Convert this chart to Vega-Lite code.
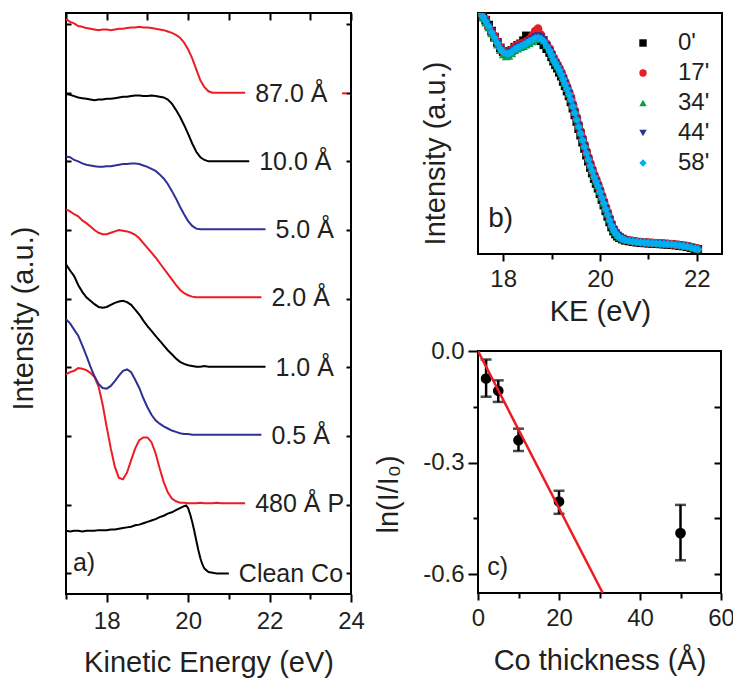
{
  "$schema": "https://vega.github.io/schema/vega-lite/v6.json",
  "padding": {"left": 8, "top": 11, "right": 0, "bottom": 0},
  "config": {
    "font": "Liberation Sans",
    "view": {"stroke": "#000000", "strokeWidth": 2},
    "axis": {"domain": false, "grid": false, "tickColor": "#000000", "tickWidth": 2, "labelFontSize": 24, "titleFontSize": 29, "titleFontWeight": "normal", "labelColor": "#231f20", "titleColor": "#231f20", "labelFlush": false, "labelOverlap": false},
    "text": {"color": "#231f20"}
  },
  "spacing": 7,
  "resolve": {"scale": {"color": "independent", "shape": "independent"}, "legend": {"color": "independent", "shape": "independent"}},
  "hconcat": [
    {
      "width": 285,
      "height": 581,
      "data": {"values": [
        {"e":17.0,"c":0.62,"p":2.90,"h":3.70,"a1":4.50,"a2":5.30,"a5":6.07,"a10":6.98,"a87":8.07},
        {"e":17.1,"c":0.61,"p":2.93,"h":3.64,"a1":4.41,"a2":5.27,"a5":6.06,"a10":6.97,"a87":8.03},
        {"e":17.2,"c":0.62,"p":2.95,"h":3.55,"a1":4.33,"a2":5.23,"a5":6.02,"a10":6.95,"a87":8.01},
        {"e":17.3,"c":0.62,"p":2.99,"h":3.46,"a1":4.20,"a2":5.20,"a5":6.00,"a10":6.93,"a87":7.97},
        {"e":17.4,"c":0.61,"p":2.98,"h":3.32,"a1":4.10,"a2":5.14,"a5":5.97,"a10":6.92,"a87":7.96},
        {"e":17.5,"c":0.62,"p":2.96,"h":3.17,"a1":4.02,"a2":5.10,"a5":5.95,"a10":6.91,"a87":7.94},
        {"e":17.6,"c":0.62,"p":2.92,"h":3.01,"a1":3.97,"a2":5.05,"a5":5.94,"a10":6.90,"a87":7.93},
        {"e":17.7,"c":0.62,"p":2.86,"h":2.87,"a1":3.92,"a2":5.00,"a5":5.93,"a10":6.89,"a87":7.92},
        {"e":17.8,"c":0.63,"p":2.72,"h":2.76,"a1":3.88,"a2":4.96,"a5":5.92,"a10":6.90,"a87":7.91},
        {"e":17.9,"c":0.63,"p":2.46,"h":2.70,"a1":3.87,"a2":4.94,"a5":5.92,"a10":6.90,"a87":7.92},
        {"e":18.0,"c":0.63,"p":2.13,"h":2.69,"a1":3.88,"a2":4.94,"a5":5.93,"a10":6.91,"a87":7.92},
        {"e":18.1,"c":0.64,"p":1.82,"h":2.73,"a1":3.91,"a2":4.96,"a5":5.93,"a10":6.91,"a87":7.91},
        {"e":18.2,"c":0.64,"p":1.55,"h":2.80,"a1":3.94,"a2":4.98,"a5":5.94,"a10":6.92,"a87":7.92},
        {"e":18.3,"c":0.65,"p":1.39,"h":2.88,"a1":3.96,"a2":5.00,"a5":5.95,"a10":6.93,"a87":7.93},
        {"e":18.4,"c":0.66,"p":1.37,"h":2.95,"a1":3.97,"a2":4.99,"a5":5.96,"a10":6.94,"a87":7.93},
        {"e":18.5,"c":0.67,"p":1.47,"h":2.97,"a1":3.95,"a2":4.98,"a5":5.96,"a10":6.94,"a87":7.94},
        {"e":18.6,"c":0.68,"p":1.65,"h":2.93,"a1":3.91,"a2":4.96,"a5":5.97,"a10":6.95,"a87":7.95},
        {"e":18.7,"c":0.70,"p":1.82,"h":2.82,"a1":3.84,"a2":4.93,"a5":5.97,"a10":6.96,"a87":7.95},
        {"e":18.8,"c":0.71,"p":1.94,"h":2.70,"a1":3.77,"a2":4.88,"a5":5.96,"a10":6.96,"a87":7.96},
        {"e":18.9,"c":0.73,"p":1.98,"h":2.55,"a1":3.68,"a2":4.81,"a5":5.94,"a10":6.95,"a87":7.95},
        {"e":19.0,"c":0.75,"p":1.98,"h":2.42,"a1":3.60,"a2":4.74,"a5":5.92,"a10":6.95,"a87":7.95},
        {"e":19.1,"c":0.77,"p":1.91,"h":2.31,"a1":3.53,"a2":4.67,"a5":5.89,"a10":6.96,"a87":7.94},
        {"e":19.2,"c":0.79,"p":1.75,"h":2.23,"a1":3.46,"a2":4.60,"a5":5.86,"a10":6.95,"a87":7.93},
        {"e":19.3,"c":0.82,"p":1.53,"h":2.18,"a1":3.39,"a2":4.52,"a5":5.81,"a10":6.94,"a87":7.92},
        {"e":19.4,"c":0.84,"p":1.33,"h":2.14,"a1":3.32,"a2":4.44,"a5":5.75,"a10":6.93,"a87":7.91},
        {"e":19.5,"c":0.87,"p":1.18,"h":2.11,"a1":3.25,"a2":4.36,"a5":5.67,"a10":6.90,"a87":7.89},
        {"e":19.6,"c":0.89,"p":1.09,"h":2.08,"a1":3.19,"a2":4.28,"a5":5.57,"a10":6.84,"a87":7.87},
        {"e":19.7,"c":0.92,"p":1.05,"h":2.06,"a1":3.13,"a2":4.20,"a5":5.46,"a10":6.75,"a87":7.84},
        {"e":19.8,"c":0.95,"p":1.03,"h":2.04,"a1":3.08,"a2":4.13,"a5":5.34,"a10":6.65,"a87":7.80},
        {"e":19.9,"c":0.98,"p":1.03,"h":2.03,"a1":3.05,"a2":4.08,"a5":5.23,"a10":6.53,"a87":7.73},
        {"e":19.95,"c":0.99},
        {"e":20.0,"c":0.95,"p":1.02,"h":2.03,"a1":3.03,"a2":4.05,"a5":5.13,"a10":6.40,"a87":7.63},
        {"e":20.05,"c":0.86},
        {"e":20.1,"c":0.75,"p":1.02,"h":2.02,"a1":3.02,"a2":4.03,"a5":5.06,"a10":6.26,"a87":7.50},
        {"e":20.15,"c":0.62},
        {"e":20.2,"c":0.48,"p":1.02,"h":2.02,"a1":3.01,"a2":4.02,"a5":5.02,"a10":6.14,"a87":7.34},
        {"e":20.25,"c":0.34},
        {"e":20.3,"c":0.22,"p":1.03,"h":2.02,"a1":3.01,"a2":4.02,"a5":5.01,"a10":6.06,"a87":7.18},
        {"e":20.35,"c":0.13},
        {"e":20.4,"c":0.07,"p":1.02,"h":2.02,"a1":3.02,"a2":4.02,"a5":5.01,"a10":6.02,"a87":7.08},
        {"e":20.5,"c":0.02,"p":1.02,"h":2.02,"a1":3.01,"a2":4.02,"a5":5.01,"a10":6.00,"a87":7.02},
        {"e":20.6,"c":0.01,"p":1.02,"h":2.02,"a1":3.01,"a2":4.02,"a5":5.01,"a10":6.00,"a87":7.00},
        {"e":20.7,"c":0.00,"p":1.03,"h":2.02,"a1":3.01,"a2":4.02,"a5":5.01,"a10":6.00,"a87":7.00},
        {"e":20.8,"c":0.00,"p":1.02,"h":2.02,"a1":3.01,"a2":4.02,"a5":5.01,"a10":6.00,"a87":7.00},
        {"e":20.9,"c":0.00,"p":1.02,"h":2.02,"a1":3.01,"a2":4.02,"a5":5.01,"a10":6.00,"a87":7.00},
        {"e":21.0,"c":0.00,"p":1.02,"h":2.02,"a1":3.01,"a2":4.02,"a5":5.01,"a10":6.00,"a87":7.00},
        {"e":21.1,"p":1.02,"h":2.02,"a1":3.01,"a2":4.02,"a5":5.01,"a10":6.00,"a87":7.00},
        {"e":21.2,"p":1.02,"h":2.02,"a1":3.01,"a2":4.02,"a5":5.01,"a10":6.00,"a87":7.00},
        {"e":21.3,"p":1.02,"h":2.02,"a1":3.01,"a2":4.02,"a5":5.01,"a10":6.00,"a87":7.00},
        {"e":21.4,"p":1.02,"h":2.02,"a1":3.01,"a2":4.02,"a5":5.01,"a10":6.00,"a87":7.00},
        {"e":21.5,"h":2.02,"a1":3.01,"a2":4.02,"a5":5.01,"a10":6.00},
        {"e":21.6,"h":2.02,"a1":3.01,"a2":4.02,"a5":5.01},
        {"e":21.7,"h":2.02,"a1":3.01,"a2":4.02,"a5":5.01},
        {"e":21.8,"h":2.02,"a1":3.01,"a2":4.02,"a5":5.01},
        {"e":21.9,"a1":3.01,"a5":5.01},
        {"e":23.78,"d":6.99},
        {"e":23.9,"d":6.99}
      ]},
      "transform": [
        {"fold": ["c","p","h","a1","a2","a5","a10","a87","d"], "as": ["s","v"]},
        {"filter": {"field": "v", "valid": true}}
      ],
      "layer": [
        {
          "mark": {"type": "line", "strokeWidth": 2, "clip": true},
          "encoding": {
            "x": {"field": "e", "type": "quantitative", "scale": {"domain": [17, 24], "nice": false, "zero": false},
                  "axis": {"orient": "bottom", "values": [18, 20, 22, 24], "tickSize": 8, "labelPadding": 7, "title": "Kinetic Energy (eV)", "titlePadding": 15}},
            "y": {"field": "v", "type": "quantitative", "scale": {"domain": [-0.3, 8.16], "nice": false, "zero": false},
                  "axis": {"orient": "left", "values": [0,1,2,3,4,5,6,7,8], "tickSize": -5, "labels": false, "title": "Intensity (a.u.)", "titlePadding": 27, "titleY": 305}},
            "color": {"field": "s", "type": "nominal",
                      "scale": {"domain": ["c","p","h","a1","a2","a5","a10","a87","d"],
                                "range": ["#000000","#ed1c24","#2e3192","#000000","#ed1c24","#2e3192","#000000","#ed1c24","#ed1c24"]},
                      "legend": null}
          }
        },
        {
          "transform": [
            {"filter": "datum.s != 'd'"},
            {"joinaggregate": [{"op": "max", "field": "e", "as": "emax"}], "groupby": ["s"]},
            {"filter": "datum.e == datum.emax"},
            {"lookup": "s", "from": {"data": {"values": [
              {"s":"c","label":"Clean Co"},{"s":"p","label":"480 Å P"},{"s":"h","label":"0.5 Å"},{"s":"a1","label":"1.0 Å"},
              {"s":"a2","label":"2.0 Å"},{"s":"a5","label":"5.0 Å"},{"s":"a10","label":"10.0 Å"},{"s":"a87","label":"87.0 Å"}
            ]}, "key": "s", "fields": ["label"]}}
          ],
          "mark": {"type": "text", "align": "left", "baseline": "middle", "dx": 10, "dy": 1, "fontSize": 25},
          "encoding": {
            "x": {"field": "e", "type": "quantitative", "axis": {"orient": "top", "values": [17,18,19,20,21,22,23,24], "tickSize": -7, "labels": false, "title": null}},
            "y": {"field": "v", "type": "quantitative", "axis": {"orient": "right", "values": [0,1,2,3,4,5,6,7,8], "tickSize": -5, "labels": false, "title": null}},
            "text": {"field": "label"}
          }
        },
        {
          "data": {"values": [{}]},
          "mark": {"type": "text", "text": "a)", "align": "left", "baseline": "alphabetic", "fontSize": 25},
          "encoding": {
            "x": {"datum": 17.17, "type": "quantitative", "axis": {"orient": "bottom", "values": [17, 19, 21, 23], "tickSize": 5, "labels": false, "title": null}},
            "y": {"datum": 0.04, "type": "quantitative", "axis": null}
          }
        }
      ],
      "resolve": {"axis": {"x": "independent", "y": "independent"}}
    },
    {
      "spacing": 11,
      "resolve": {"scale": {"color": "independent", "shape": "independent"}, "legend": {"color": "independent", "shape": "independent"}},
      "vconcat": [
        {
          "width": 244,
          "height": 241,
          "layer": [
            {
              "data": {"values": [
                {"e":17.52,"t0":1.02,"t17":1.01,"t34":1.00,"t44":1.01,"t58":1.01},
                {"e":17.58,"t0":0.99,"t17":0.98,"t34":0.98,"t44":0.99,"t58":0.985},
                {"e":17.64,"t0":0.97,"t17":0.975,"t34":0.96,"t44":0.965,"t58":0.965},
                {"e":17.70,"t0":0.95,"t17":0.94,"t34":0.94,"t44":0.945,"t58":0.945},
                {"e":17.76,"t0":0.925,"t17":0.925,"t34":0.915,"t44":0.92,"t58":0.92},
                {"e":17.82,"t0":0.90,"t17":0.905,"t34":0.895,"t44":0.895,"t58":0.898},
                {"e":17.88,"t0":0.878,"t17":0.88,"t34":0.868,"t44":0.872,"t58":0.875},
                {"e":17.94,"t0":0.855,"t17":0.858,"t34":0.845,"t44":0.85,"t58":0.852},
                {"e":18.00,"t0":0.84,"t17":0.842,"t34":0.828,"t44":0.836,"t58":0.838},
                {"e":18.06,"t0":0.835,"t17":0.836,"t34":0.82,"t44":0.83,"t58":0.832},
                {"e":18.12,"t0":0.836,"t17":0.835,"t34":0.822,"t44":0.83,"t58":0.832},
                {"e":18.18,"t0":0.845,"t17":0.848,"t34":0.832,"t44":0.84,"t58":0.84},
                {"e":18.24,"t0":0.858,"t17":0.86,"t34":0.845,"t44":0.85,"t58":0.85},
                {"e":18.30,"t0":0.866,"t17":0.868,"t34":0.852,"t44":0.858,"t58":0.857},
                {"e":18.36,"t0":0.872,"t17":0.872,"t34":0.858,"t44":0.862,"t58":0.862},
                {"e":18.42,"t0":0.885,"t17":0.876,"t34":0.862,"t44":0.868,"t58":0.868},
                {"e":18.48,"t0":0.905,"t17":0.882,"t34":0.868,"t44":0.876,"t58":0.875},
                {"e":18.54,"t0":0.895,"t17":0.89,"t34":0.875,"t44":0.884,"t58":0.882},
                {"e":18.60,"t0":0.892,"t17":0.905,"t34":0.882,"t44":0.892,"t58":0.888},
                {"e":18.66,"t0":0.897,"t17":0.925,"t34":0.89,"t44":0.9,"t58":0.895},
                {"e":18.72,"t0":0.895,"t17":0.935,"t34":0.895,"t44":0.905,"t58":0.897},
                {"e":18.78,"t0":0.885,"t17":0.91,"t34":0.893,"t44":0.9,"t58":0.893},
                {"e":18.84,"t0":0.868,"t17":0.89,"t34":0.885,"t44":0.888,"t58":0.882},
                {"e":18.90,"t0":0.852,"t17":0.872,"t34":0.866,"t44":0.864,"t58":0.862},
                {"e":18.96,"t0":0.836,"t17":0.852,"t34":0.846,"t44":0.844,"t58":0.843},
                {"e":19.00,"t0":0.818,"t17":0.834,"t34":0.828,"t44":0.827,"t58":0.825},
                {"e":19.04,"t0":0.800,"t17":0.815,"t34":0.809,"t44":0.808,"t58":0.806},
                {"e":19.08,"t0":0.785,"t17":0.801,"t34":0.795,"t44":0.793,"t58":0.792},
                {"e":19.12,"t0":0.771,"t17":0.786,"t34":0.780,"t44":0.779,"t58":0.777},
                {"e":19.16,"t0":0.754,"t17":0.772,"t34":0.765,"t44":0.764,"t58":0.762},
                {"e":19.20,"t0":0.738,"t17":0.755,"t34":0.748,"t44":0.747,"t58":0.745},
                {"e":19.24,"t0":0.716,"t17":0.735,"t34":0.728,"t44":0.727,"t58":0.725},
                {"e":19.28,"t0":0.698,"t17":0.714,"t34":0.708,"t44":0.707,"t58":0.705},
                {"e":19.32,"t0":0.676,"t17":0.695,"t34":0.688,"t44":0.687,"t58":0.685},
                {"e":19.36,"t0":0.656,"t17":0.673,"t34":0.666,"t44":0.665,"t58":0.663},
                {"e":19.40,"t0":0.631,"t17":0.650,"t34":0.643,"t44":0.642,"t58":0.64},
                {"e":19.44,"t0":0.605,"t17":0.622,"t34":0.615,"t44":0.614,"t58":0.612},
                {"e":19.48,"t0":0.577,"t17":0.595,"t34":0.588,"t44":0.587,"t58":0.585},
                {"e":19.52,"t0":0.550,"t17":0.567,"t34":0.560,"t44":0.559,"t58":0.557},
                {"e":19.56,"t0":0.520,"t17":0.538,"t34":0.531,"t44":0.530,"t58":0.528},
                {"e":19.60,"t0":0.493,"t17":0.510,"t34":0.503,"t44":0.502,"t58":0.5},
                {"e":19.64,"t0":0.464,"t17":0.482,"t34":0.475,"t44":0.474,"t58":0.472},
                {"e":19.68,"t0":0.438,"t17":0.455,"t34":0.448,"t44":0.447,"t58":0.445},
                {"e":19.72,"t0":0.410,"t17":0.428,"t34":0.421,"t44":0.420,"t58":0.418},
                {"e":19.76,"t0":0.385,"t17":0.402,"t34":0.395,"t44":0.394,"t58":0.392},
                {"e":19.80,"t0":0.359,"t17":0.376,"t34":0.369,"t44":0.368,"t58":0.366},
                {"e":19.84,"t0":0.336,"t17":0.353,"t34":0.346,"t44":0.345,"t58":0.343},
                {"e":19.88,"t0":0.313,"t17":0.330,"t34":0.323,"t44":0.322,"t58":0.32},
                {"e":19.92,"t0":0.293,"t17":0.310,"t34":0.303,"t44":0.302,"t58":0.3},
                {"e":19.96,"t0":0.273,"t17":0.290,"t34":0.283,"t44":0.282,"t58":0.28},
                {"e":20.00,"t0":0.250,"t17":0.267,"t34":0.260,"t44":0.259,"t58":0.257},
                {"e":20.04,"t0":0.226,"t17":0.243,"t34":0.236,"t44":0.235,"t58":0.233},
                {"e":20.08,"t0":0.203,"t17":0.220,"t34":0.213,"t44":0.212,"t58":0.21},
                {"e":20.12,"t0":0.179,"t17":0.196,"t34":0.189,"t44":0.188,"t58":0.186},
                {"e":20.16,"t0":0.156,"t17":0.173,"t34":0.166,"t44":0.165,"t58":0.163},
                {"e":20.20,"t0":0.133,"t17":0.150,"t34":0.143,"t44":0.142,"t58":0.14},
                {"e":20.24,"t0":0.112,"t17":0.127,"t34":0.121,"t44":0.120,"t58":0.118},
                {"e":20.28,"t0":0.095,"t17":0.107,"t34":0.102,"t44":0.101,"t58":0.1},
                {"e":20.32,"t0":0.083,"t17":0.092,"t34":0.089,"t44":0.088,"t58":0.087},
                {"e":20.36,"t0":0.074,"t17":0.080,"t34":0.078,"t44":0.077,"t58":0.077},
                {"e":20.40,"t0":0.068,"t17":0.072,"t34":0.071,"t44":0.070,"t58":0.07},
                {"e":20.46,"t0":0.062,"t17":0.064,"t34":0.064,"t44":0.062,"t58":0.063},
                {"e":20.52,"t0":0.057,"t17":0.059,"t34":0.06,"t44":0.057,"t58":0.058},
                {"e":20.60,"t0":0.054,"t17":0.056,"t34":0.057,"t44":0.053,"t58":0.055},
                {"e":20.68,"t0":0.051,"t17":0.053,"t34":0.055,"t44":0.05,"t58":0.052},
                {"e":20.76,"t0":0.049,"t17":0.051,"t34":0.053,"t44":0.048,"t58":0.05},
                {"e":20.84,"t0":0.047,"t17":0.049,"t34":0.051,"t44":0.046,"t58":0.048},
                {"e":20.92,"t0":0.046,"t17":0.048,"t34":0.05,"t44":0.045,"t58":0.047},
                {"e":21.00,"t0":0.045,"t17":0.047,"t34":0.049,"t44":0.044,"t58":0.046},
                {"e":21.08,"t0":0.044,"t17":0.046,"t34":0.048,"t44":0.043,"t58":0.045},
                {"e":21.16,"t0":0.043,"t17":0.045,"t34":0.047,"t44":0.042,"t58":0.044},
                {"e":21.24,"t0":0.042,"t17":0.044,"t34":0.046,"t44":0.041,"t58":0.043},
                {"e":21.32,"t0":0.041,"t17":0.043,"t34":0.045,"t44":0.04,"t58":0.042},
                {"e":21.40,"t0":0.04,"t17":0.042,"t34":0.044,"t44":0.039,"t58":0.041},
                {"e":21.48,"t0":0.039,"t17":0.041,"t34":0.043,"t44":0.038,"t58":0.04},
                {"e":21.56,"t0":0.037,"t17":0.039,"t34":0.041,"t44":0.036,"t58":0.038},
                {"e":21.64,"t0":0.035,"t17":0.037,"t34":0.039,"t44":0.034,"t58":0.036},
                {"e":21.72,"t0":0.033,"t17":0.035,"t34":0.037,"t44":0.032,"t58":0.034},
                {"e":21.80,"t0":0.03,"t17":0.032,"t34":0.034,"t44":0.029,"t58":0.031},
                {"e":21.88,"t0":0.026,"t17":0.028,"t34":0.03,"t44":0.025,"t58":0.027},
                {"e":21.96,"t0":0.022,"t17":0.024,"t34":0.025,"t44":0.021,"t58":0.023},
                {"e":22.02,"t0":0.019,"t17":0.021,"t34":0.022,"t44":0.018,"t58":0.02}
              ]},
              "transform": [{"fold": ["t0","t17","t34","t44","t58"], "as": ["t","i"]}],
              "mark": {"type": "point", "filled": true, "size": 75, "opacity": 1, "clip": true},
              "encoding": {
                "x": {"field": "e", "type": "quantitative", "scale": {"domain": [17.48, 22.52], "nice": false, "zero": false},
                      "axis": {"orient": "bottom", "values": [18, 20, 22], "tickSize": 7, "labelPadding": 6, "title": "KE (eV)", "titlePadding": 6}},
                "y": {"field": "i", "type": "quantitative", "scale": {"domain": [0, 1], "nice": false, "zero": false},
                      "axis": {"orient": "left", "ticks": false, "labels": false, "title": "Intensity (a.u.)", "titlePadding": 28, "titleY": 140}},
                "color": {"field": "t", "type": "nominal",
                          "scale": {"domain": ["t0","t17","t34","t44","t58"], "range": ["#000000","#ed1c24","#00a14b","#2e3192","#00aeef"]},
                          "legend": {"orient": "none", "legendX": 153, "legendY": 18, "title": null, "labelFontSize": 24, "labelColor": "#231f20", "labelOffset": 23, "rowPadding": 6, "symbolSize": 55, "labelExpr": "slice(datum.label, 1) + \"'\""}},
                "shape": {"field": "t", "type": "nominal",
                          "scale": {"domain": ["t0","t17","t34","t44","t58"], "range": ["square","circle","triangle-up","triangle-down","diamond"]},
                          "legend": {"orient": "none", "legendX": 153, "legendY": 18, "title": null, "labelFontSize": 24, "labelColor": "#231f20", "labelOffset": 23, "rowPadding": 6, "symbolSize": 55, "labelExpr": "slice(datum.label, 1) + \"'\""}},
                "order": {"field": "t", "type": "ordinal", "sort": "ascending"}
              }
            },
            {
              "data": {"values": [{}]},
              "mark": {"type": "text", "text": "b)", "align": "left", "baseline": "alphabetic", "fontSize": 28},
              "encoding": {
                "x": {"datum": 17.69, "type": "quantitative", "axis": {"orient": "bottom", "values": [19, 21], "tickSize": 5, "labels": false, "title": null}},
                "y": {"datum": 0.113, "type": "quantitative", "axis": null}
              }
            }
          ],
          "resolve": {"axis": {"x": "independent", "y": "independent"}}
        },
        {
          "width": 243,
          "height": 242,
          "data": {"values": [
            {"x": 2, "y": -0.074, "lo": -0.123, "hi": -0.023},
            {"x": 5, "y": -0.107, "lo": -0.137, "hi": -0.079},
            {"x": 10, "y": -0.24, "lo": -0.269, "hi": -0.209},
            {"x": 20, "y": -0.405, "lo": -0.438, "hi": -0.376},
            {"x": 50, "y": -0.49, "lo": -0.563, "hi": -0.414}
          ]},
          "layer": [
            {
              "mark": {"type": "errorbar", "color": "#000000", "ticks": {"size": 11, "thickness": 2.5}, "rule": {"strokeWidth": 2.5}},
              "encoding": {
                "x": {"field": "x", "type": "quantitative", "scale": {"domain": [0, 60], "nice": false, "zero": false},
                      "axis": {"orient": "bottom", "values": [0, 20, 40, 60], "tickSize": 7, "labelPadding": 6, "title": "Co thickness (Å)", "titlePadding": 16}},
                "y": {"field": "lo", "type": "quantitative", "scale": {"domain": [-0.651, 0], "nice": false, "zero": false},
                      "axis": {"orient": "left", "values": [0, -0.3, -0.6], "tickSize": 10, "labelPadding": 4, "labelExpr": "replace(format(datum.value, '.1f'), '−', '-')", "title": "ln(I/I₀)", "titlePadding": 19, "titleY": 143}},
                "y2": {"field": "hi"}
              }
            },
            {
              "mark": {"type": "point", "filled": true, "size": 115, "color": "#000000", "opacity": 1},
              "encoding": {
                "x": {"field": "x", "type": "quantitative", "axis": {"orient": "bottom", "values": [10, 30, 50], "tickSize": 5, "labels": false, "title": null}},
                "y": {"field": "y", "type": "quantitative", "axis": {"orient": "left", "values": [-0.15, -0.45], "tickSize": 5, "labels": false, "title": null}}
              }
            },
            {
              "data": {"values": [{"x": 0, "y": 0}, {"x": 30.8, "y": -0.651}]},
              "mark": {"type": "line", "color": "#ed1c24", "strokeWidth": 2.5, "clip": true},
              "encoding": {
                "x": {"field": "x", "type": "quantitative", "axis": null},
                "y": {"field": "y", "type": "quantitative", "axis": {"orient": "right", "values": [-0.15, -0.3, -0.45, -0.6], "tickSize": -7, "labels": false, "title": null}}
              }
            },
            {
              "data": {"values": [{}]},
              "mark": {"type": "text", "text": "c)", "align": "left", "baseline": "alphabetic", "fontSize": 25},
              "encoding": {
                "x": {"datum": 2.3, "type": "quantitative", "axis": null},
                "y": {"datum": -0.602, "type": "quantitative", "axis": null}
              }
            }
          ],
          "resolve": {"axis": {"x": "independent", "y": "independent"}}
        }
      ]
    }
  ]
}
